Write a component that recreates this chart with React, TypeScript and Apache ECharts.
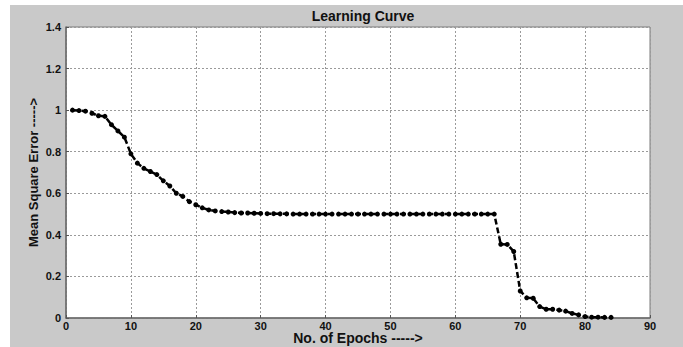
import React, { useEffect, useRef } from "react";
import * as echarts from "echarts";

const epochs = [
  1, 2, 3, 4, 5, 6, 7, 8, 9, 10, 11, 12, 13, 14, 15, 16, 17, 18, 19, 20,
  21, 22, 23, 24, 25, 26, 27, 28, 29, 30, 31, 32, 33, 34, 35, 36, 37, 38, 39, 40,
  41, 42, 43, 44, 45, 46, 47, 48, 49, 50, 51, 52, 53, 54, 55, 56, 57, 58, 59, 60,
  61, 62, 63, 64, 65, 66, 67, 68, 69, 70, 71, 72, 73, 74, 75, 76, 77, 78, 79, 80,
  81, 82, 83, 84,
];

const mse = [
  1.0, 0.998, 0.995, 0.985, 0.973, 0.97, 0.93, 0.9, 0.87, 0.79,
  0.745, 0.72, 0.705, 0.69, 0.66, 0.635, 0.6, 0.585, 0.56, 0.545,
  0.53, 0.52, 0.515, 0.512, 0.51, 0.507, 0.505, 0.505, 0.504, 0.503,
  0.502, 0.502, 0.501, 0.501, 0.5, 0.5, 0.5, 0.5, 0.5, 0.5,
  0.5, 0.5, 0.5, 0.5, 0.5, 0.5, 0.5, 0.5, 0.5, 0.5,
  0.5, 0.5, 0.5, 0.5, 0.5, 0.5, 0.5, 0.5, 0.5, 0.5,
  0.5, 0.5, 0.5, 0.5, 0.5, 0.5, 0.355, 0.354, 0.32, 0.13,
  0.097, 0.095, 0.055, 0.042, 0.042, 0.038, 0.033, 0.022, 0.015, 0.007,
  0.004, 0.004, 0.003, 0.003,
];

const titleText = "Learning Curve";
const xName = "No. of Epochs ----->";
const yName = "Mean Square Error ----->";

const FONT = "'Liberation Sans', Arial, sans-serif";

export default function App() {
  const ref = useRef<HTMLDivElement>(null);

  useEffect(() => {
    document.body.style.margin = "0";
    if (!ref.current) return;
    const chart = echarts.init(ref.current, null, { renderer: "svg" });
    const gridLine = { show: true, lineStyle: { color: "#9a9a9a", type: [2, 2] as any, width: 1 } };
    chart.setOption({
      animation: false,
      backgroundColor: "#ffffff",
      graphic: [
        {
          type: "rect",
          z: -10,
          shape: { x: 10, y: 5, width: 673, height: 342 },
          style: { fill: "#c9c9c9" },
          silent: true,
        },
      ],
      title: {
        text: titleText,
        left: 358,
        top: 4,
        textAlign: "center",
        textStyle: { fontFamily: FONT, fontSize: 14, fontWeight: "bold", color: "#111" },
      },
      grid: {
        left: 66,
        right: 33,
        top: 27,
        bottom: 29,
        show: true,
        backgroundColor: "#ffffff",
        borderColor: "#7a7a7a",
        borderWidth: 1,
        outerBoundsMode: "none",
      } as any,
      xAxis: {
        type: "value",
        min: 0,
        max: 90,
        interval: 10,
        name: xName,
        nameLocation: "middle",
        nameGap: 13,
        nameMoveOverlap: false,
        nameTextStyle: { fontFamily: FONT, fontSize: 14, fontWeight: "bold", color: "#111", verticalAlign: "top" },
        axisLine: { show: true, lineStyle: { color: "#6a6a6a", width: 1.5 } },
        axisTick: { show: true, inside: true, length: 3, lineStyle: { color: "#555" } },
        axisLabel: { fontFamily: FONT, fontSize: 11, fontWeight: "bold", color: "#111", margin: 2 },
        splitLine: gridLine,
      } as any,
      yAxis: {
        type: "value",
        min: 0,
        max: 1.4,
        interval: 0.2,
        name: yName,
        nameLocation: "middle",
        nameGap: 26,
        nameMoveOverlap: false,
        nameTextStyle: { fontFamily: FONT, fontSize: 13, fontWeight: "bold", color: "#111" },
        axisLine: { show: true, lineStyle: { color: "#6a6a6a", width: 1.5 } },
        axisTick: { show: true, inside: true, length: 3, lineStyle: { color: "#555" } },
        axisLabel: { fontFamily: FONT, fontSize: 11, fontWeight: "bold", color: "#111", margin: 5 },
        splitLine: gridLine,
      } as any,
      series: [
        {
          type: "line",
          data: epochs.map((e, i) => [e, mse[i]]),
          symbol: "circle",
          symbolSize: 5,
          itemStyle: { color: "#000" },
          lineStyle: { color: "#000", width: 2.5, type: [6, 3] as any },
          z: 5,
        },
      ],
    });
    return () => chart.dispose();
  }, []);

  return <div ref={ref} style={{ width: 683, height: 347 }} />;
}
